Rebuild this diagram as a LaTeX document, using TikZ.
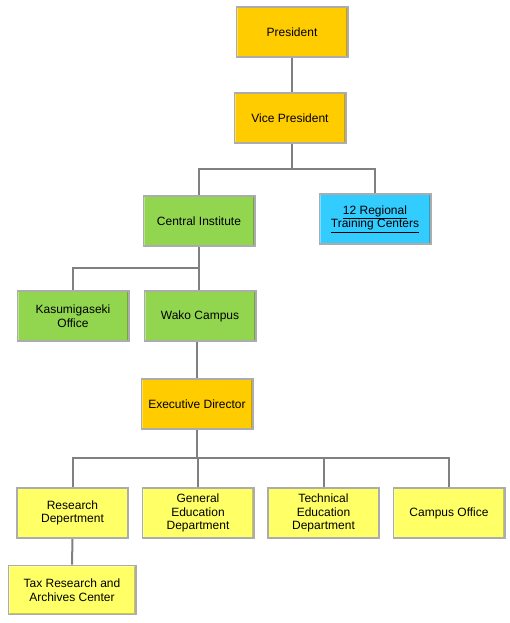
\documentclass[tikz,border=0pt]{standalone}
\usepackage{fontspec}
\setmainfont{Liberation Sans}
\usetikzlibrary{positioning}
\definecolor{orggold}{RGB}{255,204,0}
\definecolor{orggreen}{RGB}{146,214,80}
\definecolor{orgcyan}{RGB}{51,204,255}
\definecolor{orgyellow}{RGB}{255,255,102}
\definecolor{orgline}{RGB}{128,128,128}

\begin{document}
\begin{tikzpicture}[
        x=1pt, y=-1pt, % pixel units, y pointing down
        node distance=12.5pt and 12.5pt,
        unit/.style={draw=gray!65, line width=1.6pt, minimum width=111.4pt, minimum height=50.5pt, align=center, inner sep=2pt, font=\fontsize{12}{13.5}\selectfont,
            path picture={\draw[black, opacity=0.22, line width=2.5pt] (path picture bounding box.south west) -- (path picture bounding box.south east) -- (path picture bounding box.north east);
                          \draw[white, opacity=0.35, line width=2.5pt] (path picture bounding box.south west) -- (path picture bounding box.north west) -- (path picture bounding box.north east);}},
        top/.style={unit, fill=orggold},
        inst/.style={unit, fill=orggreen},
        region/.style={unit, fill=orgcyan},
        dept/.style={unit, fill=orgyellow},
        link/.style={draw=orgline, line width=2pt}
    ]
        \useasboundingbox (0,0) rectangle (510,623);

        % --- top of the chart ---
        \node[top] (pres) at (292,32) {President};
        \node[top] (vice) at (290,118) {Vice President};

        % --- institutes ---
        \node[inst] (central) at (199,221) {Central Institute};
        \node[region] (regional) at (375,219) {\underline{12 Regional}\\\underline{Training Centers}};
        \node[inst] (wako) at (200,316) {Wako Campus};
        \node[inst, left=14pt of wako] (kasumi) {Kasumigaseki\\Office};

        % --- executive ---
        \node[top] (exec) at (197,404) {Executive Director};

        % --- departments ---
        \node[dept] (research) at (72.5,513) {Research\\Depertment};
        \node[dept, right=of research] (general) {General\\Education\\Department};
        \node[dept, right=of general] (technical) {Technical\\Education\\Department};
        \node[dept, right=of technical] (campus) {Campus Office};
        \node[dept, minimum width=127.4pt, minimum height=49pt] (tax) at (72,590) {Tax Research and\\Archives Center};

        % bus points
        \coordinate (bus1) at (292,169);
        \coordinate (bus2) at (199,268);
        \coordinate (bus3) at (197,458);

        % connectors
        \draw[link] (pres) -- (pres |- vice.north);
        \draw[link] (vice.south -| bus1) -- (bus1);
        \draw[link] (central.north) |- (bus1) -| (regional.north);
        \draw[link] (central) -- (central |- wako.north);
        \draw[link] (kasumi.north) |- (bus2);
        \draw[link] (wako.south -| exec) -- (exec);
        \draw[link] (exec) -- (bus3);
        \draw[link] (research.north) |- (bus3) -| (campus.north);
        \draw[link] (general.north) -- (general.north |- bus3);
        \draw[link] (technical.north) -- (technical.north |- bus3);
        \draw[link] (research) -- (tax);
    \end{tikzpicture}
\end{document}
